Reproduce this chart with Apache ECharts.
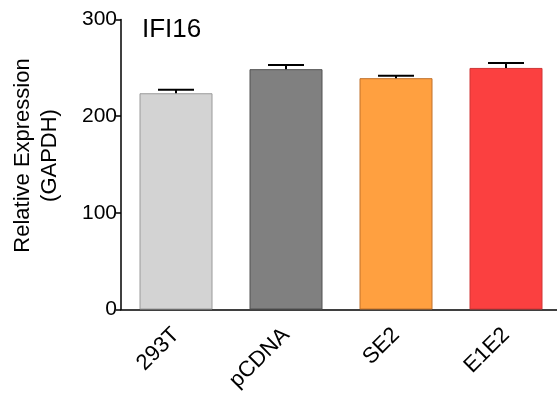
<!DOCTYPE html>
<html>
<head>
<meta charset="utf-8">
<script src="https://cdn.jsdelivr.net/npm/echarts@6/dist/echarts.min.js"></script>
<style>html,body{margin:0;padding:0;background:#fff;}#c{width:557px;height:396px;}</style>
</head>
<body>
<div id="c"></div>
<script>
var categories = ['293T', 'pCDNA', 'SE2', 'E1E2'];
var values = [223.7, 248.6, 239.3, 249.9];
var errors = [3.7, 4.4, 2.4, 5.0];
var fills = ['#d3d3d3', '#808080', '#ffa040', '#fb4040'];
var borders = ['#9a9a9a', '#505050', '#c0702a', '#d03535'];
var yTicks = [0, 100, 200, 300];

var FONT = 'Arial, "Liberation Sans", sans-serif';
var chart = echarts.init(document.getElementById('c'), null, {renderer: 'canvas'});
chart.setOption({
  animation: false,
  title: {
    text: 'IFI16', left: 137, top: 12,
    textStyle: {fontFamily: FONT, fontSize: 26, fontWeight: 'normal', color: '#000'}
  },
  graphic: [{
    type: 'text', x: 36.5, y: 155.5, rotation: Math.PI / 2,
    style: {text: 'Relative Expression\n(GAPDH)', fontFamily: FONT, fontSize: 22, lineHeight: 27,
      fill: '#000', align: 'center', verticalAlign: 'middle'}
  }],
  grid: {left: 121, width: 440, top: 19.5, bottom: 86.5, containLabel: false, outerBoundsMode: 'none'},
  xAxis: {
    type: 'category', data: categories,
    axisLine: {lineStyle: {color: '#000', width: 1.5}},
    axisTick: {alignWithLabel: true, length: 5, lineStyle: {color: '#000', width: 1.5}},
    axisLabel: {rotate: 45, margin: 22, fontFamily: FONT, fontSize: 22, color: '#000'}
  },
  yAxis: {
    type: 'value', min: 0, max: 300, interval: 100,
    splitLine: {show: false},
    axisLine: {show: true, lineStyle: {color: '#000', width: 1.5}},
    axisTick: {show: true, length: 5, lineStyle: {color: '#000', width: 1.5}},
    axisLabel: {margin: 4, fontFamily: FONT, fontSize: 21, color: '#000',
      formatter: function (v) { return yTicks.indexOf(v) >= 0 ? String(v) : ''; }}
  },
  series: [{
    type: 'bar', barWidth: 73,
    data: values.map(function (v, i) {
      return {value: v, itemStyle: {color: fills[i], borderColor: borders[i], borderWidth: 1}};
    })
  }, {
    type: 'custom',
    data: values.map(function (v, i) { return [i, v, errors[i]]; }),
    renderItem: function (params, api) {
      var i = api.value(0), v = api.value(1), e = api.value(2);
      var base = api.coord([i, v]);
      var top = api.coord([i, v + e]);
      var half = 18;
      return {
        type: 'group',
        children: [
          {type: 'line', shape: {x1: base[0], y1: base[1], x2: top[0], y2: top[1]}, style: {stroke: '#000', lineWidth: 2}},
          {type: 'line', shape: {x1: top[0] - half, y1: top[1], x2: top[0] + half, y2: top[1]}, style: {stroke: '#000', lineWidth: 2}}
        ]
      };
    },
    z: 10
  }]
});
</script>
</body>
</html>
